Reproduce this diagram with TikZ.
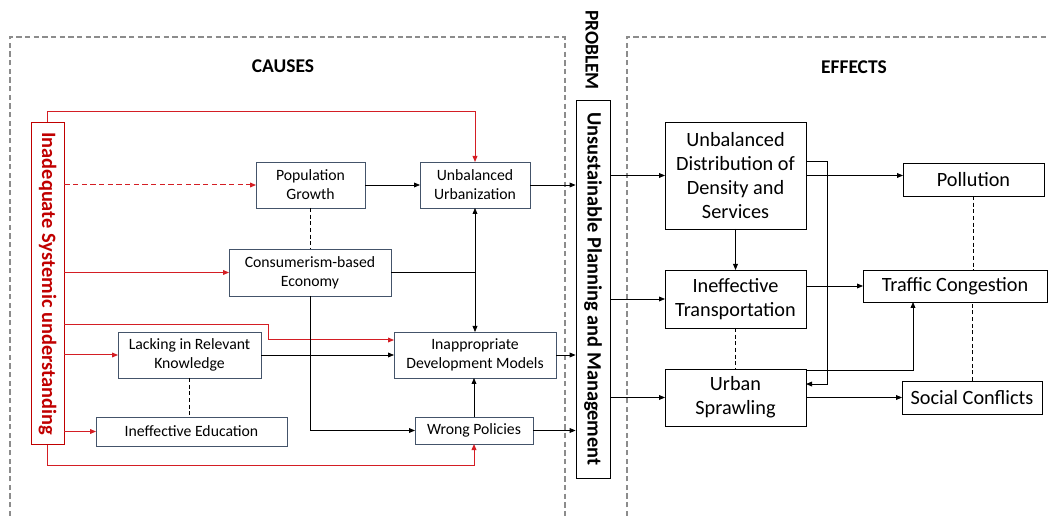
\documentclass[tikz,border=0pt]{standalone}
\usepackage{fontspec}
\setmainfont{Carlito}
\usepackage{graphicx}
\usetikzlibrary{arrows.meta}
\definecolor{causered}{RGB}{192,0,0}
\definecolor{linkred}{RGB}{212,30,36}
\definecolor{boxgrey}{RGB}{68,84,106}
\definecolor{framegrey}{RGB}{140,140,140}

\tikzset{
  causebox/.style={draw=boxgrey, fill=white, align=center, inner sep=0pt, outer sep=0pt,
    line width=0.7pt, font=\fontsize{11.8}{14.3}\selectfont},
  effectbox/.style={draw=black, fill=white, align=center, inner sep=0pt, outer sep=0pt,
    line width=0.7pt, font=\fontsize{15.2}{18}\selectfont},
  link/.style={line width=0.6pt, -{Triangle[length=4.5pt,width=3.6pt]}},
  redlink/.style={link, line width=0.75pt, draw=linkred, color=linkred},
  tie/.style={line width=0.6pt, dash pattern=on 3pt off 2pt},
  framebox/.style={framegrey, line width=0.9pt, dash pattern=on 4pt off 2.5pt},
  heading/.style={font=\fontsize{14.6}{17}\selectfont\bfseries}
}

\begin{document}
\begin{tikzpicture}[x=0.75pt, y=-0.75pt]
  \useasboundingbox (0,0) rectangle (1049,516);

  % Frames and headings
  \draw[framebox] (10,516) |- (565,37) -- (565,516);
  \draw[framebox] (627,516) |- (1049,37);
  \node[heading] (causes) at (283,66) {CAUSES};
  \node[heading] (effects) at (854,67) {EFFECTS};
  \node[heading] (problem) at (592,50) {\rotatebox{-90}{PROBLEM}};

  % Root cause and problem
  \node[draw=causered, line width=0.65pt, inner sep=0pt, minimum width=24.75pt, minimum height=242pt,
        text=causered, font=\fontsize{15.3}{18}\selectfont\bfseries]
        (inad) at (47.5,283.5) {\rotatebox{-90}{Inadequate Systemic understanding}};
  \node[draw, line width=0.6pt, inner sep=0pt, minimum width=25.5pt, minimum height=283.5pt,
        font=\fontsize{15.3}{18}\selectfont\bfseries]
        (prob) at (593,289) {\rotatebox{-90}{Unsustainable Planning and Management}};

  % Causes
  \node[causebox, minimum width=81.75pt, minimum height=34.5pt] (popg) at (310.5,185) {Population\\Growth};
  \node[causebox, minimum width=82.5pt, minimum height=34.5pt] (unurb) at (475,185) {Unbalanced\\Urbanization};
  \node[causebox, minimum width=121.5pt, minimum height=35.25pt] (cons) at (310,272.5) {Consumerism-based\\Economy};
  \node[causebox, minimum width=107.25pt, minimum height=34.5pt] (lack) at (189.5,355) {Lacking in Relevant\\Knowledge};
  \node[causebox, minimum width=143.25pt, minimum height=21.75pt] (ineduc) at (191.5,431.5) {Ineffective Education};
  \node[causebox, minimum width=121.5pt, minimum height=34.5pt] (inapp) at (475,355) {Inappropriate\\Development Models};
  \node[causebox, minimum width=88.5pt, minimum height=20.25pt] (wrong) at (474,430.5) {Wrong Policies};

  % Effects
  \node[effectbox, minimum width=105.75pt, minimum height=80.25pt] (unbdist) at (735.5,175.5) {Unbalanced\\Distribution of\\Density and\\Services};
  \node[effectbox, minimum width=105.75pt, minimum height=43.5pt] (ineftr) at (735.5,299) {Ineffective\\Transportation};
  \node[effectbox, minimum width=105.75pt, minimum height=42.75pt] (sprawl) at (735.5,397.5) {Urban\\Sprawling};
  \node[effectbox, minimum width=105.75pt, minimum height=24.75pt] (poll) at (973.5,179.5) {Pollution};
  \node[effectbox, minimum width=138pt, minimum height=24pt] (traffic) at (955,286) {Traffic Congestion};
  \node[effectbox, minimum width=105pt, minimum height=24.75pt] (social) at (972,397.5) {Social Conflicts};

  % Red links from the root cause
  \draw[redlink] (inad.north) -- ++(0,-10) -| (unurb.north);
  \draw[redlink, dash pattern=on 4pt off 2.5pt] (inad.east |- popg) -- (popg.west);
  \foreach \t in {cons, lack, ineduc} {
    \draw[redlink] (inad.east |- \t) -- (\t.west);
  }
  \coordinate (rbend) at (268,325);
  \draw[redlink] (inad.east |- rbend) -- (rbend) |- ([yshift=11.25pt]inapp.west);
  \draw[redlink] (inad.south) -- ++(0,20) -| (wrong.south);

  % Links among causes
  \draw[link] (popg.east) -- (unurb.west);
  \draw[tie] (popg.south) -- (popg.south |- cons.north);
  \draw[line width=0.6pt] (cons.east) -- (cons.east -| unurb.south);
  \draw[link, {Triangle[length=4.5pt,width=3.6pt]}-{Triangle[length=4.5pt,width=3.6pt]}] (unurb.south) -- (inapp.north);
  \draw[link] (cons.south) |- (wrong.west);
  \draw[link] (lack.east) -- (lack.east -| inapp.west);
  \draw[tie] (lack.south) -- (lack.south |- ineduc.north);
  \draw[link] (wrong.north) -- (wrong.north |- inapp.south);

  % Into and out of the problem
  \foreach \t in {unurb, inapp, wrong} {
    \draw[link] (\t.east) -- (\t.east -| prob.west);
  }
  \foreach \t in {unbdist, ineftr, sprawl} {
    \draw[link] (prob.east |- \t.west) -- (\t.west);
  }

  % Links among effects
  \draw[link] (unbdist.east) -- (unbdist.east -| poll.west);
  \coordinate (ebend) at (827,161);
  \draw[link] (unbdist.east |- ebend) -- (ebend) |- ([yshift=10.1pt]sprawl.east);
  \draw[link] (unbdist.south) -- (ineftr.north);
  \draw[link] (ineftr.east |- traffic.west) -- (traffic.west);
  \draw[tie] (ineftr.south) -- (sprawl.north);
  \draw[link] ([yshift=-0.8pt]sprawl.north east) -| ([xshift=37.5pt]traffic.south west);
  \draw[link] (sprawl.east) -- (social.west);
  \draw[tie] (poll.south) -- (poll.south |- traffic.north);
  \draw[tie] (social.north) -- (social.north |- traffic.south);
\end{tikzpicture}
\end{document}
